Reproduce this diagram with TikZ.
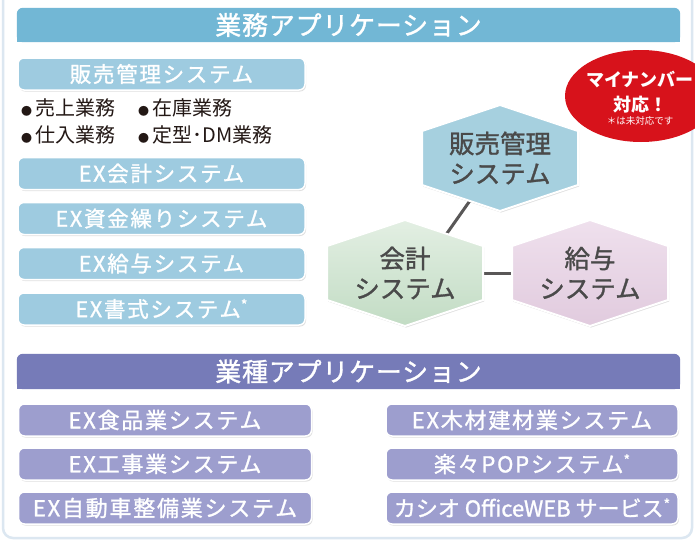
\documentclass[tikz,border=0pt]{standalone}
\usepackage{fontspec}
\setmainfont{Noto Sans CJK JP}
\newfontfamily\medfam[FakeBold=1.2]{Noto Sans CJK JP}
\newfontfamily\headfam[LetterSpace=3, FakeBold=1.2]{Noto Sans CJK JP}
\newfontfamily\boxfam[LetterSpace=8, FakeBold=1.2]{Noto Sans CJK JP}
\usepackage{xcolor}
\usetikzlibrary{positioning}
\usetikzlibrary{shapes.geometric}
\usetikzlibrary{shadows}
\usetikzlibrary{backgrounds}

\definecolor{hdblue}{HTML}{72B7D5}
\definecolor{boxblue}{HTML}{9ECBE0}
\definecolor{hdpurple}{HTML}{767BB8}
\definecolor{boxpurple}{HTML}{9D9ECE}
\definecolor{inkdark}{HTML}{231815}
\definecolor{hexink}{HTML}{4A4A4A}
\definecolor{linkgray}{HTML}{595757}
\definecolor{numred}{HTML}{D7121B}
\definecolor{panelline}{HTML}{DCE7F1}
\definecolor{hanbaitop}{HTML}{A6D0DF}
\definecolor{hanbaimid}{HTML}{D0EAF2}
\definecolor{kaikeitop}{HTML}{E3EFE3}
\definecolor{kaikeibot}{HTML}{C2DCC4}
\definecolor{kyuyotop}{HTML}{EFE0ED}
\definecolor{kyuyobot}{HTML}{E1CBDE}

\tikzset{apphead/.style={minimum width=663pt, minimum height=34pt, inner sep=0pt,
text=white, font=\headfam\fontsize{26}{30}\selectfont},
appbox/.style={rounded corners=6pt, draw=white, line width=1.5pt, minimum height=32pt,
inner sep=0pt, text=white, font=\boxfam\fontsize{21.5}{24}\selectfont,
drop shadow={opacity=0.25, shadow xshift=1pt, shadow yshift=-1.5pt}},
gyomu/.style={appbox, fill=boxblue, minimum width=287pt},
gyoshu/.style={appbox, fill=boxpurple, minimum width=293pt, font=\boxfam\fontsize{22}{24}\selectfont},
bullet/.style={anchor=west, inner sep=0pt, text=inkdark, font=\fontsize{20}{22}\selectfont},
hexframe/.style={draw=white, line width=2pt,
drop shadow={opacity=0.25, shadow xshift=1pt, shadow yshift=-1.5pt}},
hextext/.style={align=center, text=hexink, font=\medfam\fontsize{25.5}{30}\selectfont},
link/.style={draw=linkgray, line width=3pt}}

\newcommand{\sixbox}[4]{%
	\fill[hexframe, #3, shift={#2}] (0,-53) -- (78,-27) -- (78,27) -- (0,53) -- (-78,27) -- (-78,-27) -- cycle;
	\node[hextext] (#1) at #2 {#4};
}
\newcommand{\bul}{{\fontsize{11}{11}\selectfont ●}\,}
\newcommand{\nomark}{\raisebox{7pt}{\fontsize{14}{14}\selectfont *}}

\begin{document}
\begin{tikzpicture}[x=1pt, y=-1pt]
				\useasboundingbox (0,0) rectangle (695,541);
				\clip (0,0) rectangle (695,541);
				\begin{scope}[on background layer]
					\fill[white] (0,0) rectangle (695,541);
					\draw[panelline, line width=2.5pt, fill=white, rounded corners=10pt] (3,-15) rectangle (692,538);
				\end{scope}

				\node[apphead] (gyomuhead) at (348.5,25) {業務アプリケーション};
				\begin{scope}[on background layer]
					\fill[hdblue, rounded corners=6pt] (gyomuhead.north west) rectangle (gyomuhead.south east);
					\fill[hdblue] (gyomuhead.west) rectangle (gyomuhead.south east);
				\end{scope}

				\node[gyomu] (hanbaibox) at (161.5,74) {販売管理システム};
				\node[bullet] (uriage) at (21,108) {\bul 売上業務};
				\node[bullet] (zaiko) at (138,108) {\bul 在庫業務};
				\node[bullet] (shiire) at (21,135) {\bul 仕入業務};
				\node[bullet] (teikei) at (138,135) {\bul 定型･DM業務};
				\node[gyomu] (kaikeibox) at (161.5,173.5) {EX会計システム};
				\node[gyomu] (shikinbox) at (161.5,218.5) {EX資金繰りシステム};
				\node[gyomu] (kyuyobox) at (161.5,263.5) {EX給与システム};
				\node[gyomu] (shoshikibox) at (161.5,309) {EX書式システム\nomark};

				\sixbox{hanbai}{(500,158)}{top color=hanbaitop, middle color=hanbaimid, bottom color=hanbaitop}{販売管理\\システム}
				\sixbox{kaikei}{(405,273)}{top color=kaikeitop, bottom color=kaikeibot}{会計\\システム}
				\sixbox{kyuyo}{(590,273)}{top color=kyuyotop, bottom color=kyuyobot}{給与\\システム}
				\begin{scope}[on background layer]
					\draw[link] (hanbai.center) -- ([xshift=14pt]kaikei.center);
					\draw[link] (kaikei.center) -- (kyuyo.center);
				\end{scope}

				\node[ellipse, fill=numred, minimum width=152pt, minimum height=92pt] (mynumber) at (641,96) {};
				\node[align=center, text=white, inner sep=0pt, font=\bfseries\fontsize{18}{25}\selectfont] (mynumtext) at (640,92)
					{マイナンバー\\対応！};
				\node[below=3pt of mynumtext, inner sep=0pt, text=white, font=\fontsize{9.5}{12}\selectfont] (mynumnote) {＊は未対応です};

				\node[apphead, minimum height=35pt] (gyoshuhead) at (348.5,371.5) {業種アプリケーション};
				\begin{scope}[on background layer]
					\fill[hdpurple, rounded corners=6pt] (gyoshuhead.north west) rectangle (gyoshuhead.south east);
					\fill[hdpurple] (gyoshuhead.west) rectangle (gyoshuhead.south east);
				\end{scope}

				\node[gyoshu] (shokuhin) at (165,420) {EX食品業システム};
				\node[gyoshu] (koji) at (165,464) {EX工事業システム};
				\node[gyoshu] (jidosha) at (165,508) {EX自動車整備業システム};
				\node[gyoshu, minimum width=292pt] (mokuzai) at (532,420) {EX木材建材業システム};
				\node[gyoshu, minimum width=292pt] (rakuraku) at (532,464) {楽々POPシステム\nomark};
				\node[gyoshu, minimum width=292pt, font=\medfam\fontsize{22}{24}\selectfont] (casio) at (532,508) {カシオ OfficeWEB サービス\nomark};
\end{tikzpicture}
\end{document}
